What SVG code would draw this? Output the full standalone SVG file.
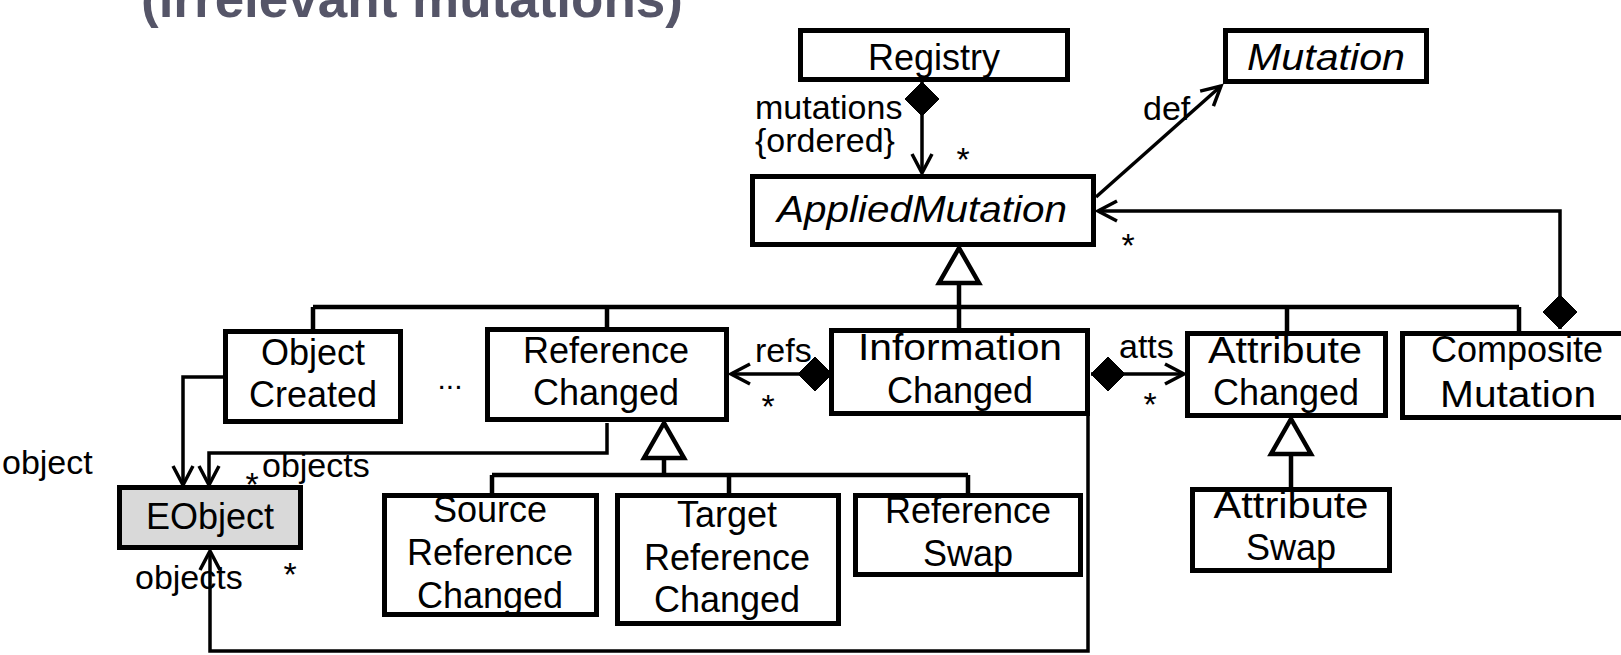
<svg xmlns="http://www.w3.org/2000/svg" width="1621" height="655" viewBox="0 0 1621 655">
<style>
.box{fill:#fff;stroke:#000;stroke-width:5}
.gray{fill:#d9d9d9}
.t{font-family:"Liberation Sans",Arial,sans-serif;font-size:36px;fill:#000;text-anchor:middle}
.it{font-style:italic}
.lb{font-family:"Liberation Sans",Arial,sans-serif;font-size:34px;fill:#000}
.st{font-family:"Liberation Sans",Arial,sans-serif;font-size:34px;fill:#000;text-anchor:middle}
.c{fill:none;stroke:#000;stroke-width:3.5;stroke-linejoin:miter}
.g{fill:none;stroke:#000;stroke-width:4.5}
.title{font-family:"Liberation Sans",Arial,sans-serif;font-size:53px;font-weight:bold;fill:#555568}
</style>
<defs>
<marker id="open" markerUnits="userSpaceOnUse" viewBox="-24 -14 28 28" refX="0" refY="0" markerWidth="28" markerHeight="28" orient="auto" overflow="visible">
<path d="M-19,-10 L0,0 L-19,10" fill="none" stroke="#000" stroke-width="3.5"/>
</marker>
<marker id="dia" markerUnits="userSpaceOnUse" viewBox="-2 -20 40 40" refX="0" refY="0" markerWidth="40" markerHeight="40" orient="auto" overflow="visible">
<path d="M0,0 L17,-17 L34,0 L17,17 Z" fill="#000" stroke="#000" stroke-width="1"/>
</marker>
<marker id="tri" markerUnits="userSpaceOnUse" viewBox="-40 -24 44 48" refX="0" refY="0" markerWidth="44" markerHeight="48" orient="auto" overflow="visible">
<path d="M0,0 L-35,-20 L-35,20 Z" fill="#fff" stroke="#000" stroke-width="4.5" stroke-linejoin="miter"/>
</marker>
</defs>

<text class="title" x="141" y="17">(irrelevant mutations)</text>

<g id="connectors">
<!-- generalization tree AppliedMutation -->
<path class="g" d="M313,307 L1519,307 M313,307 L313,330 M607,307 L607,328 M1287,307 L1287,332 M1519,307 L1519,332 M959,307 L959,329"/>
<path class="g" d="M959,307 L959,248" marker-end="url(#tri)"/>
<!-- generalization tree ReferenceChanged -->
<path class="g" d="M492,475 L968,475 M492,475 L492,494 M729,475 L729,494 M968,475 L968,494"/>
<path class="g" d="M664,475 L664,423" marker-end="url(#tri)"/>
<!-- generalization AttributeSwap -->
<path class="g" d="M1291,488 L1291,419" marker-end="url(#tri)"/>
<!-- mutations -->
<path class="c" d="M922,82 L922,173" marker-start="url(#dia)" marker-end="url(#open)"/>
<!-- def -->
<path class="c" d="M1096,197 L1221,86" marker-end="url(#open)"/>
<!-- composite children -->
<path class="c" d="M1560,329 L1560,211 L1098,211" marker-start="url(#dia)" marker-end="url(#open)"/>
<!-- refs -->
<path class="c" d="M832,374 L731,374" marker-start="url(#dia)" marker-end="url(#open)"/>
<!-- atts -->
<path class="c" d="M1091,374 L1184,374" marker-start="url(#dia)" marker-end="url(#open)"/>
<!-- object -->
<path class="c" d="M223,377 L183,377 L183,485" marker-end="url(#open)"/>
<!-- objects from ReferenceChanged -->
<path class="c" d="M607,423 L607,453 L209,453 L209,485" marker-end="url(#open)"/>
<!-- objects from InformationChanged -->
<path class="c" d="M1088,416 L1088,651 L210,651 L210,551" marker-end="url(#open)"/>

<text class="lb" x="755" y="119">mutations</text>
<text class="lb" x="755" y="152">{ordered}</text>
<text class="st" x="963" y="171">*</text>
<text class="lb" x="1143" y="120">def</text>
<text class="st" x="1128" y="257">*</text>
<text class="lb" x="755" y="362">refs</text>
<text class="st" x="768" y="418">*</text>
<text class="lb" x="1119" y="358">atts</text>
<text class="st" x="1150" y="416">*</text>
<text class="lb" x="2" y="474">object</text>
<text class="st" x="252" y="496">*</text>
<text class="lb" x="262" y="477">objects</text>
<text class="lb" x="135" y="589">objects</text>
<text class="st" x="290" y="586">*</text>
</g>

<g id="registry">
<rect class="box" x="800.5" y="30.5" width="267" height="49"/>
<text class="t" x="934" y="70">Registry</text>
</g>
<g id="mutation">
<rect class="box" x="1225.5" y="30.5" width="201" height="51"/>
<text class="t it" x="1326" y="70" textLength="158" lengthAdjust="spacingAndGlyphs">Mutation</text>
</g>
<g id="appliedMutation">
<rect class="box" x="752.5" y="176.5" width="341" height="68"/>
<text class="t it" x="922" y="222" textLength="290" lengthAdjust="spacingAndGlyphs">AppliedMutation</text>
</g>
<g id="objectCreated">
<rect class="box" x="225.5" y="331.5" width="175" height="90"/>
<text class="t" x="313" y="365">Object</text>
<text class="t" x="313" y="407">Created</text>
</g>
<text class="t" x="450" y="389" style="font-size:30px">...</text>
<g id="referenceChanged">
<rect class="box" x="487.5" y="329.5" width="239" height="90"/>
<text class="t" x="606" y="363">Reference</text>
<text class="t" x="606" y="405">Changed</text>
</g>
<g id="informationChanged">
<rect class="box" x="831.5" y="330.5" width="256" height="83"/>
<text class="t" x="960" y="360" textLength="204" lengthAdjust="spacingAndGlyphs">Information</text>
<text class="t" x="960" y="403">Changed</text>
</g>
<g id="attributeChanged">
<rect class="box" x="1187.5" y="333.5" width="198" height="82"/>
<text class="t" x="1285" y="363" textLength="154" lengthAdjust="spacingAndGlyphs">Attribute</text>
<text class="t" x="1286" y="405">Changed</text>
</g>
<g id="compositeMutation">
<rect class="box" x="1402.5" y="333.5" width="231" height="84"/>
<text class="t" x="1517" y="362">Composite</text>
<text class="t" x="1518" y="407" textLength="156" lengthAdjust="spacingAndGlyphs">Mutation</text>
</g>
<g id="attributeSwap">
<rect class="box" x="1192.5" y="489.5" width="197" height="81"/>
<text class="t" x="1291" y="518" textLength="155" lengthAdjust="spacingAndGlyphs">Attribute</text>
<text class="t" x="1291" y="560">Swap</text>
</g>
<g id="sourceReferenceChanged">
<rect class="box" x="384.5" y="495.5" width="212" height="119"/>
<text class="t" x="490" y="522">Source</text>
<text class="t" x="490" y="565">Reference</text>
<text class="t" x="490" y="608">Changed</text>
</g>
<g id="targetReferenceChanged">
<rect class="box" x="617.5" y="495.5" width="221" height="128"/>
<text class="t" x="727" y="527">Target</text>
<text class="t" x="727" y="570">Reference</text>
<text class="t" x="727" y="612">Changed</text>
</g>
<g id="referenceSwap">
<rect class="box" x="855.5" y="495.5" width="225" height="79"/>
<text class="t" x="968" y="523">Reference</text>
<text class="t" x="968" y="566">Swap</text>
</g>
<g id="eobject">
<rect class="box gray" x="119.5" y="487.5" width="181" height="60"/>
<text class="t" x="210" y="529">EObject</text>
</g>
</svg>
